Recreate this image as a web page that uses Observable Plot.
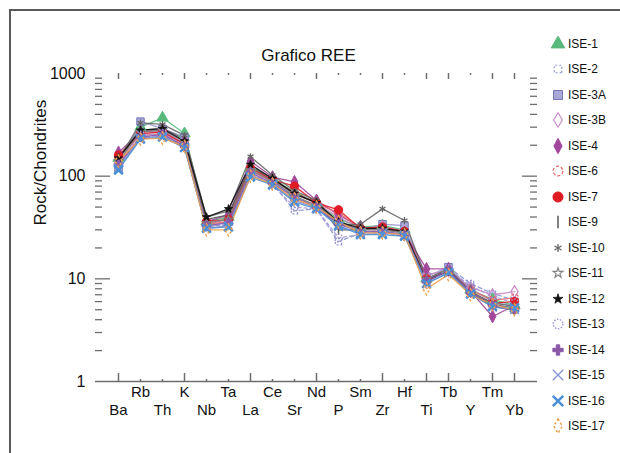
<!DOCTYPE html>
<html><head><meta charset="utf-8">
<script src="https://cdn.jsdelivr.net/npm/d3@7"></script>
<script src="https://cdn.jsdelivr.net/npm/@observablehq/plot@0.6"></script>
<style>
html,body{margin:0;padding:0;background:#fff;}
body{width:620px;height:453px;overflow:hidden;position:relative;font-family:"Liberation Sans",Arial,sans-serif;}
#frame{position:absolute;left:9px;top:9px;width:700px;height:600px;border:2px solid #5a5a5a;box-sizing:border-box;}
#chart{position:absolute;left:0;top:0;}
#legend{position:absolute;left:548px;top:0;width:72px;height:453px;}
.item{position:absolute;left:0;height:20px;display:flex;align-items:center;font-size:12px;color:#111;white-space:nowrap;}
.item svg{flex:none;}
</style></head><body>
<div id="frame"></div><div id="chart"></div><div id="legend"></div>
<script>
// ---- data ----
const elements = ["Ba","Rb","Th","K","Nb","Ta","La","Ce","Sr","Nd","P","Sm","Zr","Hf","Ti","Tb","Y","Tm","Yb"];
const majorTickElements = ["Ba","K","La","Nd","Zr","Ti","Tb","Tm","Yb"];
const yTickLabels = [1, 10, 100, 1000];
const seriesNames = ["ISE-1","ISE-2","ISE-3A","ISE-3B","ISE-4","ISE-6","ISE-7","ISE-9","ISE-10","ISE-11","ISE-12","ISE-13","ISE-14","ISE-15","ISE-16","ISE-17"];
const ise1  = [150, 300, 370, 260, 36, 40, 120, 95, 70, 55, 38, 32, 33, 30, 10, 12.5, 7.8, 6.3, 5.5];
const ise2  = [125, 240, 250, 200, 33, 33, 105, 85, 46, 48, 23, 28, 29, 27, 9.5, 13, 9.0, 7.2, 6.2];
const ise3A = [120, 340, 290, 240, 32, 36, 110, 90, 62, 52, 36, 30, 34, 33, 10.5, 13, 8, 6, 5.4];
const ise3B = [135, 260, 270, 210, 34, 38, 118, 92, 68, 54, 40, 31, 32, 29, 11, 12, 8.2, 7.0, 7.5];
const ise4  = [170, 270, 280, 220, 36, 42, 140, 98, 88, 58, 42, 32, 30, 28, 12.5, 12.5, 7.6, 4.3, 5.5];
const ise6  = [155, 250, 260, 200, 34, 36, 112, 90, 70, 54, 44, 31, 31, 28, 10, 12, 7.8, 6.2, 6.5];
const ise7  = [160, 260, 270, 205, 36, 38, 120, 92, 80, 55, 47, 31, 32, 29, 10, 12, 7.4, 5.8, 6.0];
const ise9  = [150, 280, 290, 230, 38, 42, 125, 95, 66, 56, 30, 30, 31, 28, 9.5, 12, 7.6, 5.6, 5.2];
const ise10 = [145, 330, 320, 250, 40, 46, 155, 102, 72, 58, 33, 34, 48, 37, 10, 12.5, 7.5, 5.8, 5.4];
const ise11 = [140, 270, 280, 215, 35, 38, 115, 90, 64, 52, 35, 30, 30, 28, 10, 12, 7.5, 5.6, 5.2];
const ise12 = [150, 280, 290, 220, 40, 48, 130, 95, 68, 55, 36, 31, 31, 29, 9.5, 12, 7.3, 5.4, 5.0];
const ise13 = [125, 250, 260, 200, 32, 34, 105, 82, 50, 48, 25, 27, 28, 26, 9, 12.5, 8.5, 6.8, 5.8];
const ise14 = [130, 240, 255, 195, 33, 35, 108, 86, 62, 50, 34, 29, 29, 27, 9.5, 12, 7.4, 5.5, 5.0];
const ise15 = [120, 235, 245, 190, 31, 33, 100, 84, 58, 49, 32, 28, 28, 27, 9, 11.5, 7.2, 5.3, 5.0];
const ise16 = [115, 230, 240, 190, 31, 32, 98, 82, 56, 48, 33, 27, 27, 26, 9, 11.5, 7.1, 5.4, 5.2];
const ise17 = [140, 230, 235, 195, 30, 30, 100, 84, 60, 50, 36, 28, 28, 27, 8, 11, 7, 5.6, 5.0];
const seriesValues = [ise1, ise2, ise3A, ise3B, ise4, ise6, ise7, ise9, ise10, ise11, ise12, ise13, ise14, ise15, ise16, ise17];

// ---- custom symbols ----
const symVBar = {draw(c, s){ const r = Math.sqrt(s/Math.PI); c.moveTo(0,-r*1.3); c.lineTo(0,r*1.3); }};
const symTallDiamond = {draw(c, s){ const r = Math.sqrt(s/Math.PI); c.moveTo(0,-1.6*r); c.lineTo(0.85*r,0); c.lineTo(0,1.6*r); c.lineTo(-0.85*r,0); c.closePath(); }};
const symHollowDiamond = {draw(c, s){ const r = Math.sqrt(s/Math.PI); c.moveTo(0,-1.5*r); c.lineTo(0.9*r,0); c.lineTo(0,1.5*r); c.lineTo(-0.9*r,0); c.closePath(); }};

// ---- styles ----
const styles = [
  {color:"#59b97c", fill:"#59b97c", symbol:d3.symbolTriangle, dash:null, mdash:null, sw:1, r:4.2},
  {color:"#8c96d0", fill:"none", symbol:d3.symbolSquare2, dash:"4,3", mdash:"2,2", sw:1.2, r:4},
  {color:"#7474b4", fill:"#a9a9d8", symbol:d3.symbolSquare, dash:null, mdash:null, sw:1, r:4.2, line:"#9a9ad0"},
  {color:"#c98ac6", fill:"none", symbol:symHollowDiamond, dash:null, mdash:null, sw:1.2, r:4},
  {color:"#a2479b", fill:"#a2479b", symbol:symTallDiamond, dash:null, mdash:null, sw:1, r:4},
  {color:"#e46a6a", fill:"none", symbol:d3.symbolCircle, dash:null, mdash:"3,2", sw:1.3, r:4},
  {color:"#e01b24", fill:"#e01b24", symbol:d3.symbolCircle, dash:null, mdash:null, sw:1, r:4.2},
  {color:"#555555", fill:"none", symbol:symVBar, dash:null, mdash:null, sw:1.5, r:4},
  {color:"#666666", fill:"none", symbol:d3.symbolAsterisk, dash:null, mdash:null, sw:1.3, r:3.2},
  {color:"#808080", fill:"none", symbol:d3.symbolStar, dash:null, mdash:null, sw:1.1, r:2.6},
  {color:"#111111", fill:"#111111", symbol:d3.symbolStar, dash:null, mdash:null, sw:0.8, r:2.6},
  {color:"#a596d6", fill:"none", symbol:d3.symbolCircle, dash:"3,3", mdash:"1.5,1.5", sw:1.5, r:4},
  {color:"#8a58a8", fill:"#8a58a8", symbol:d3.symbolCross, dash:null, mdash:null, sw:1, r:3.6},
  {color:"#7f8fd2", fill:"none", symbol:d3.symbolTimes, dash:null, mdash:null, sw:1.2, r:4},
  {color:"#4b8fd6", fill:"none", symbol:d3.symbolTimes, dash:null, mdash:null, sw:2.6, r:4},
  {color:"#f0a04c", fill:"none", symbol:symHollowDiamond, dash:null, mdash:"2.5,2", sw:1.4, r:4}
];

// ---- build table ----
const rows = [];
seriesNames.forEach((name, i) => elements.forEach((el, j) => rows.push({series:name, el, v:seriesValues[i][j]})));

const W = 560, H = 453, mL = 95, mR = 23, mT = 73, mB = 72;
const innerW = W - mL - mR, innerH = H - mT - mB;
const minorVals = [];
[1, 10, 100].forEach(d => [2,3,4,5,6,7,8,9].forEach(k => minorVals.push(k*d)));
const inner = [10, 100];

const marks = [
  Plot.ruleY([1], {stroke:"#6e6e6e", strokeWidth:1.6}),
  Plot.tickY(inner, {y:d=>d, stroke:"#6e6e6e", strokeWidth:1.3, insetRight: innerW-15}),
  Plot.tickY(minorVals, {y:d=>d, stroke:"#6e6e6e", strokeWidth:1.3, insetRight: innerW-7}),
  Plot.tickY(inner, {y:d=>d, stroke:"#6e6e6e", strokeWidth:1.3, insetLeft: innerW-15}),
  Plot.tickY(minorVals, {y:d=>d, stroke:"#6e6e6e", strokeWidth:1.3, insetLeft: innerW-7}),
  Plot.tickX(elements.filter(e=>majorTickElements.includes(e)), {x:d=>d, stroke:"#6e6e6e", strokeWidth:1.5, insetBottom: innerH-6}),
  Plot.tickX(elements.filter(e=>!majorTickElements.includes(e)), {x:d=>d, stroke:"#6e6e6e", strokeWidth:1.5, insetBottom: innerH-2}),
  Plot.tickX(elements.filter(e=>majorTickElements.includes(e)), {x:d=>d, stroke:"#6e6e6e", strokeWidth:1.5, insetTop: innerH-8}),
  Plot.tickX(elements.filter(e=>!majorTickElements.includes(e)), {x:d=>d, stroke:"#6e6e6e", strokeWidth:1.5, insetTop: innerH-2}),
  Plot.text(yTickLabels, {y:d=>d, text:d=>String(d), frameAnchor:"left", dx:-10, textAnchor:"end", fontSize:16, fill:"#111"}),
  Plot.text(elements.filter((e,i)=>i%2===1), {x:d=>d, text:d=>d, frameAnchor:"bottom", dy:15, fontSize:15, fill:"#111"}),
  Plot.text(elements.filter((e,i)=>i%2===0), {x:d=>d, text:d=>d, frameAnchor:"bottom", dy:33, fontSize:15, fill:"#111"}),
  Plot.text(["Grafico REE"], {frameAnchor:"top", dy:-25, dx:-8, fontSize:17, fill:"#111"}),
  Plot.text(["Rock/Chondrites"], {frameAnchor:"left", dx:-55, dy:-2, rotate:-90, fontSize:17, fill:"#111"})
];
seriesNames.forEach((name, i) => {
  const st = styles[i];
  const data = rows.filter(r => r.series === name);
  marks.push(Plot.line(data, {x:"el", y:"v", stroke: st.line || st.color, strokeWidth:1.3, strokeDasharray: st.dash || undefined, strokeOpacity:0.9}));
});
seriesNames.forEach((name, i) => {
  const st = styles[i];
  const data = rows.filter(r => r.series === name);
  marks.push(Plot.dot(data, {x:"el", y:"v", symbol: st.symbol, r: st.r, fill: st.fill, stroke: st.color, strokeWidth: st.sw, strokeDasharray: st.mdash || undefined}));
});

const chart = Plot.plot({
  width: W, height: H,
  marginLeft: mL, marginRight: mR, marginTop: mT, marginBottom: mB,
  style: {fontFamily: "'Liberation Sans', Arial, sans-serif", background: "transparent"},
  x: {type:"point", domain: elements, padding: 1, axis: null},
  y: {type:"log", domain:[1, 1000], axis: null},
  marks
});
document.getElementById("chart").appendChild(chart);

// ---- legend ----
const legend = document.getElementById("legend");
seriesNames.forEach((name, i) => {
  const st = styles[i];
  const item = document.createElement("div");
  item.className = "item";
  item.style.top = (33.5 + 25.5*i) + "px";
  const svg = d3.create("svg").attr("width", 20).attr("height", 20);
  const lr = st.r * 1.2;
  svg.append("path")
    .attr("transform", "translate(10,10)")
    .attr("d", d3.symbol(st.symbol, Math.PI*lr*lr)())
    .attr("fill", st.fill).attr("stroke", st.color)
    .attr("stroke-width", st.sw).attr("stroke-dasharray", st.mdash);
  item.appendChild(svg.node());
  const t = document.createElement("span");
  t.textContent = name;
  item.appendChild(t);
  legend.appendChild(item);
});
</script>
</body></html>
